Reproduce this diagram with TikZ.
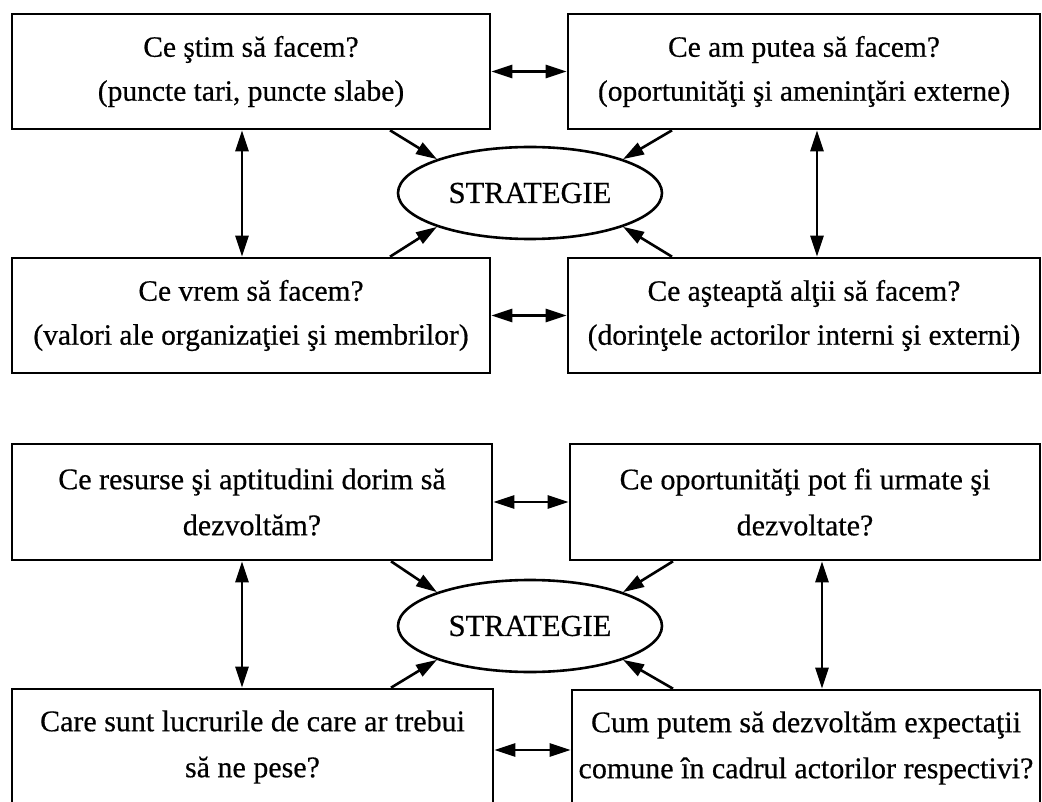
\documentclass[tikz,border=0pt]{standalone}
\usepackage{fontspec}
\setmainfont{Liberation Serif}[UprightFeatures={FakeBold=0.5}]
\usetikzlibrary{arrows.meta,shapes.geometric}
\begin{document}
\begin{tikzpicture}[x=1pt,y=-1pt,
  qbox/.style={draw,line width=2.6pt,minimum width=#1,minimum height=115pt,
    inner sep=0pt,align=center,font=\fontsize{29.5}{44}\selectfont},
  qbox2/.style={qbox=#1,minimum height=116pt,font=\fontsize{30}{46}\selectfont},
  core/.style={draw,ellipse,line width=2.6pt,minimum width=264pt,minimum height=92pt,
    inner sep=0pt,font=\fontsize{30.5}{36}\selectfont},
  tip/.tip={Triangle[length=21pt,width=13pt]},
  both/.style={line width=2.6pt,tip-tip},
  into/.style={line width=2.6pt,-tip}]
% page frame
\useasboundingbox (0,0) rectangle (1042,802);
\clip (0,0) rectangle (1042,802);

% ---------- first scheme ----------
\node[qbox=478pt] (a1) at (251,71.5) {Ce ştim să facem?\\(puncte tari, puncte slabe)};
\node[qbox=472pt] (b1) at (804,71.5) {Ce am putea să facem?\\(oportunităţi şi ameninţări externe)};
\node[qbox=478pt] (c1) at (251,315.5) {Ce vrem să facem?\\(valori ale organizaţiei şi membrilor)};
\node[qbox=472pt] (d1) at (804,315.5) {Ce aşteaptă alţii să facem?\\(dorinţele actorilor interni şi externi)};
\node[core] (s1) at (530,193) {STRATEGIE};

\coordinate (l1) at (242,0);
\coordinate (r1) at (817,0);
\coordinate (p1) at (390,0);
\coordinate (q1) at (672,0);

\draw[both] (a1) -- (b1);
\draw[both] (c1) -- (d1);
\draw[both] (a1.south -| l1) -- (c1.north -| l1);
\draw[both] (b1.south -| r1) -- (d1.north -| r1);
\draw[into] (a1.south -| p1) -- (s1.160);
\draw[into] (b1.south -| q1) -- (s1.20);
\draw[into] (c1.north -| p1) -- (s1.200);
\draw[into] (d1.north -| q1) -- (s1.-20);

% ---------- second scheme ----------
\node[qbox2=480pt] (a2) at (252,502) {Ce resurse şi aptitudini dorim să\\dezvoltăm?};
\node[qbox2=470pt] (b2) at (805,502) {Ce oportunităţi pot fi urmate şi\\dezvoltate?};
\node[qbox2=481pt] (c2) at (252.5,747) {Care sunt lucrurile de care ar trebui\\să ne pese?};
\node[qbox2=468pt] (d2) at (806,748) {Cum putem să dezvoltăm expectaţii\\comune în cadrul actorilor respectivi?};
\node[core] (s2) at (530,626) {STRATEGIE};

\coordinate (l2) at (242,0);
\coordinate (r2) at (822,0);
\coordinate (p2) at (391,0);
\coordinate (q2) at (673,0);
\coordinate (h2) at (0,750);

\draw[both] (a2) -- (b2);
\draw[both] (c2.east |- h2) -- (d2.west |- h2);
\draw[both] (a2.south -| l2) -- (c2.north -| l2);
\draw[both] (b2.south -| r2) -- (d2.north -| r2);
\draw[into] (a2.south -| p2) -- (s2.160);
\draw[into] (b2.south -| q2) -- (s2.20);
\draw[into] (c2.north -| p2) -- (s2.200);
\draw[into] (d2.north -| q2) -- (s2.-20);
\end{tikzpicture}
\end{document}
